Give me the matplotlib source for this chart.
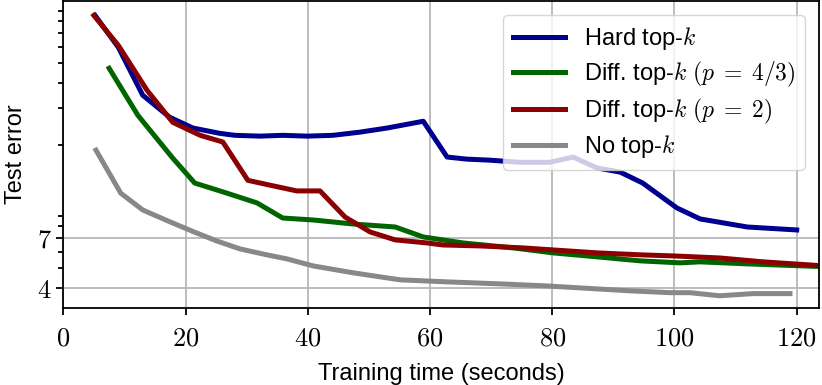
import matplotlib
matplotlib.use('Agg')

import matplotlib.pyplot as plt
from matplotlib.ticker import NullFormatter

plt.rcParams['font.family'] = ['Liberation Sans', 'DejaVu Sans']
plt.rcParams['mathtext.fontset'] = 'cm'

# Hard top-k
hard_t = [5.2, 9.0, 13.0, 17.4, 21.2, 25.6, 28.1, 32.2, 35.9, 39.9, 44.1, 48.5, 53.0,
          58.9, 62.8, 66.0, 69.8, 74.7, 79.6, 83.4, 87.3, 91.1, 94.8, 100.4, 104.2,
          111.9, 120.0]
hard_err = [85.2, 59.6, 34.8, 27.2, 24.1, 22.7, 22.2, 22.0, 22.2, 22.0, 22.2, 23.0, 24.1,
            26.0, 17.4, 17.0, 16.8, 16.4, 16.4, 17.4, 15.4, 14.7, 13.0, 9.83, 8.69,
            7.94, 7.68]

# Diff. top-k (p = 4/3)
p43_t = [7.5, 12.2, 17.9, 21.5, 26.8, 31.7, 35.9, 40.9, 47.4, 54.3, 58.9, 65.4, 73.6,
         80.1, 87.3, 94.4, 100.9, 104.2, 111.9, 125.0]
p43_err = [47.1, 27.8, 17.2, 13.0, 11.6, 10.4, 8.78, 8.59, 8.21, 7.94, 7.10, 6.64, 6.28,
           5.94, 5.68, 5.43, 5.31, 5.37, 5.25, 5.08]

# Diff. top-k (p = 2)
p2_t = [5.0, 9.0, 13.7, 17.9, 22.4, 26.1, 30.2, 34.3, 38.2, 42.0, 46.1, 50.2, 54.3,
        59.5, 62.1, 68.2, 75.2, 80.1, 87.3, 94.4, 99.8, 107.4, 114.5, 125.0]
p2_err = [85.2, 60.9, 36.8, 25.7, 22.2, 20.6, 13.4, 12.6, 11.9, 11.9, 8.88, 7.51, 6.87,
          6.64, 6.49, 6.42, 6.28, 6.14, 5.94, 5.81, 5.74, 5.61, 5.37, 5.12]

# No top-k
none_t = [5.35, 9.4, 13.0, 17.1, 21.4, 25.1, 28.9, 33.3, 36.6, 40.9, 47.4, 51.8, 55.1,
          62.8, 71.0, 79.1, 84.5, 92.7, 99.3, 102.5, 107.4, 112.8, 118.9]
none_err = [18.8, 11.6, 9.61, 8.50, 7.51, 6.79, 6.21, 5.81, 5.55, 5.13, 4.75, 4.54, 4.39,
            4.29, 4.20, 4.10, 4.01, 3.88, 3.80, 3.80, 3.67, 3.76, 3.76]

x_ticks = [0, 20, 40, 60, 80, 100, 120]
y_ticks = [4, 7]

fig, ax = plt.subplots(figsize=(8.22, 3.85), dpi=100)
fig.subplots_adjust(left=0.077, right=0.996, top=0.997, bottom=0.2)

lw = 3.6
ax.plot(hard_t, hard_err, color='#000090', lw=lw, label='Hard top-$k$')
ax.plot(p43_t, p43_err, color='#006400', lw=lw, label=r'Diff. top-$k$ $(p\;=\;4/3)$')
ax.plot(p2_t, p2_err, color='#8b0000', lw=lw, label=r'Diff. top-$k$ $(p\;=\;2)$')
ax.plot(none_t, none_err, color='#888888', lw=lw, label='No top-$k$')

ax.set_yscale('log')
ax.set_xlim(0, 123.6)
ax.set_ylim(3.2, 100)
ax.set_xticks(x_ticks)
ax.set_xticklabels([f'${v}$' for v in x_ticks], fontsize=19)
ax.set_yticks(y_ticks)
ax.set_yticklabels([f'${v}$' for v in y_ticks], fontsize=19)
ax.yaxis.set_minor_formatter(NullFormatter())
ax.tick_params(which='both', width=1.3)
ax.tick_params(which='major', length=5)
ax.tick_params(axis='x', pad=8)
ax.tick_params(which='minor', length=3.5)

ax.grid(True, which='major', color='#b8b8b8', lw=1.3)
for s in ax.spines.values():
    s.set_linewidth(1.3)

ax.set_xlabel('Training time (seconds)', fontsize=17, labelpad=9)
ax.set_ylabel('Test error', fontsize=17, labelpad=7)

ax.legend(loc='upper right', fontsize=17, handlelength=2.2, labelspacing=0.33,
          borderaxespad=0.6, fancybox=True)

plt.savefig('out.png')
